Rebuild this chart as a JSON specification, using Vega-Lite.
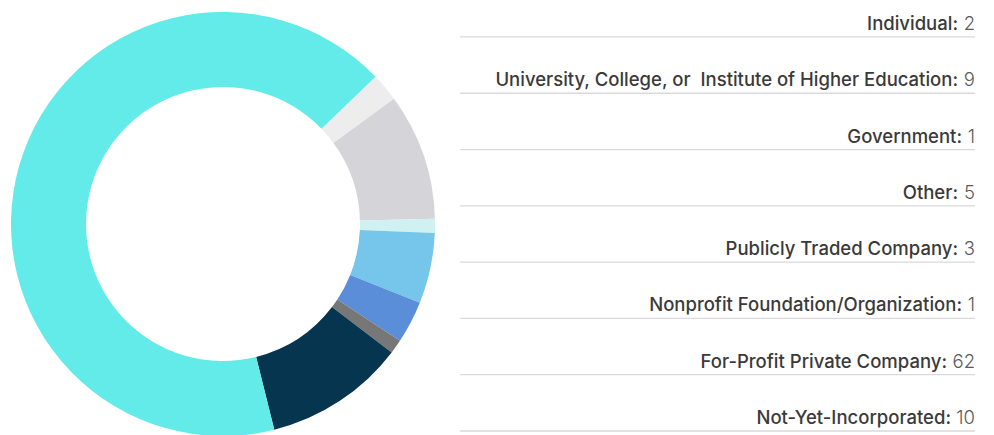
{
  "$schema": "https://vega.github.io/schema/vega-lite/v6.json",
  "width": 994,
  "height": 435,
  "autosize": {"type": "fit", "contains": "padding"},
  "padding": 0,
  "background": "white",
  "config": {"view": {"stroke": null}, "font": "Inter"},
  "data": {
    "values": [
      {"category": "Individual", "name": "Individual:", "value": 2, "slice": 1, "label": 1},
      {"category": "University, College, or  Institute of Higher Education", "name": "University, College, or\u00a0 Institute of Higher Education:", "value": 9, "slice": 2, "label": 2},
      {"category": "Government", "name": "Government:", "value": 1, "slice": 3, "label": 3},
      {"category": "Other", "name": "Other:", "value": 5, "slice": 4, "label": 4},
      {"category": "Publicly Traded Company", "name": "Publicly Traded Company:", "value": 3, "slice": 5, "label": 5},
      {"category": "Nonprofit Foundation/Organization", "name": "Nonprofit Foundation/Organization:", "value": 1, "slice": 6, "label": 6},
      {"category": "Not-Yet-Incorporated", "name": "Not-Yet-Incorporated:", "value": 10, "slice": 7, "label": 8},
      {"category": "For-Profit Private Company", "name": "For-Profit Private Company:", "value": 62, "slice": 8, "label": 7}
    ]
  },
  "layer": [
    {
      "mark": {"type": "arc", "innerRadius": 137, "outerRadius": 212, "x": 223, "y": 224, "stroke": null},
      "encoding": {
        "theta": {"field": "value", "type": "quantitative", "stack": true, "scale": {"range": [0.803, 7.086]}},
        "order": {"field": "slice", "type": "quantitative", "sort": "ascending"},
        "color": {
          "field": "category",
          "type": "nominal",
          "legend": null,
          "scale": {
            "domain": ["Individual", "University, College, or  Institute of Higher Education", "Government", "Other", "Publicly Traded Company", "Nonprofit Foundation/Organization", "Not-Yet-Incorporated", "For-Profit Private Company"],
            "range": ["#EDEDED", "#D4D4D9", "#CFF1F1", "#76C5EA", "#5B8ED8", "#777777", "#06354F", "#63EBEA"]
          }
        }
      }
    },
    {
      "mark": {"type": "rule", "x": 460, "x2": 975, "color": "#DADADE", "strokeWidth": 1.3},
      "encoding": {
        "y": {"field": "label", "type": "quantitative", "axis": null, "scale": {"domain": [0.344, 8.053], "reverse": true, "nice": false, "zero": false}}
      }
    },
    {
      "mark": {"type": "text", "x": 975, "align": "right", "baseline": "alphabetic", "dy": -7, "fontSize": 18.5, "fontWeight": 300, "color": "#5A5A5A"},
      "encoding": {
        "y": {"field": "label", "type": "quantitative"},
        "text": {"field": "value", "type": "quantitative"}
      }
    },
    {
      "mark": {"type": "text", "x": 975, "align": "right", "baseline": "alphabetic", "dy": -7, "dx": {"expr": "datum.value == 1 ? -13 : datum.value == 10 ? -24 : datum.value < 10 ? -17 : -28"}, "fontSize": 18.5, "fontWeight": 500, "color": "#3A3A3A"},
      "encoding": {
        "y": {"field": "label", "type": "quantitative"},
        "text": {"field": "name", "type": "nominal"}
      }
    }
  ]
}
